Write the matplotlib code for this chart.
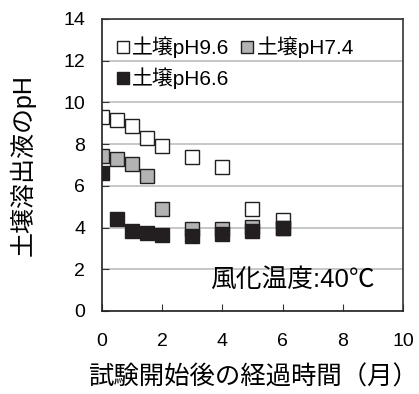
import matplotlib.pyplot as plt

plt.rcParams['font.family'] = ['Liberation Sans', 'Noto Sans CJK JP', 'DejaVu Sans']

months = [0, 0.5, 1, 1.5, 2, 3, 4, 5, 6]
ph96 = [9.3, 9.15, 8.85, 8.3, 7.9, 7.4, 6.9, 4.9, 4.35]
ph74 = [7.45, 7.27, 7.03, 6.47, 4.9, 3.95, 3.95, 4.05, 4.0]
ph66 = [6.63, 4.4, 3.83, 3.72, 3.64, 3.6, 3.7, 3.85, 3.96]

labels = ['土壌pH9.6', '土壌pH7.4', '土壌pH6.6']
dark = '#231f20'

fig = plt.figure(figsize=(4.19, 3.94), dpi=100)
ax = fig.add_axes([0.2434, 0.2107, 0.7184, 0.7411])

ms = 10
h96, = ax.plot(months, ph96, 's', ms=ms, mfc='white', mec=dark, mew=1, label=labels[0])
h74, = ax.plot(months, ph74, 's', ms=ms, mfc='#b3b3b3', mec=dark, mew=1, label=labels[1])
h66, = ax.plot(months, ph66, 's', ms=ms, mfc=dark, mec=dark, mew=1, label=labels[2])

ax.set_xlim(0, 10)
ax.set_ylim(0, 14)
ax.set_xticks(range(0, 11, 2))
ax.set_yticks(range(0, 15, 2))
ax.yaxis.grid(True, color='#bdbdbd', lw=1.2)
ax.set_axisbelow(True)
for s in ax.spines.values():
    s.set_color('#333333')
    s.set_linewidth(1.2)
ax.spines['left'].set_color(dark)
ax.spines['bottom'].set_color(dark)
ax.tick_params(direction='in', length=5, labelsize=14, color='#333333')
ax.tick_params(axis='x', pad=16)
ax.tick_params(axis='y', pad=12)

ax.set_xlabel('試験開始後の経過時間（月）', fontsize=18.3, labelpad=11)
ax.set_ylabel('土壌溶出液のpH', fontsize=18, labelpad=20)

ax.legend([h96, h66, h74], [labels[0], labels[2], labels[1]], ncol=2, loc='upper left',
          bbox_to_anchor=(0.0, 0.99), frameon=False, fontsize=15,
          handlelength=0.6, handletextpad=0.15, columnspacing=0.55,
          borderaxespad=0.3, labelspacing=0.45, markerscale=0.85)

ax.text(0.907, 0.106, '風化温度:40℃', transform=ax.transAxes, ha='right', va='center', fontsize=18.5)

fig.savefig('out.png', dpi=100)
